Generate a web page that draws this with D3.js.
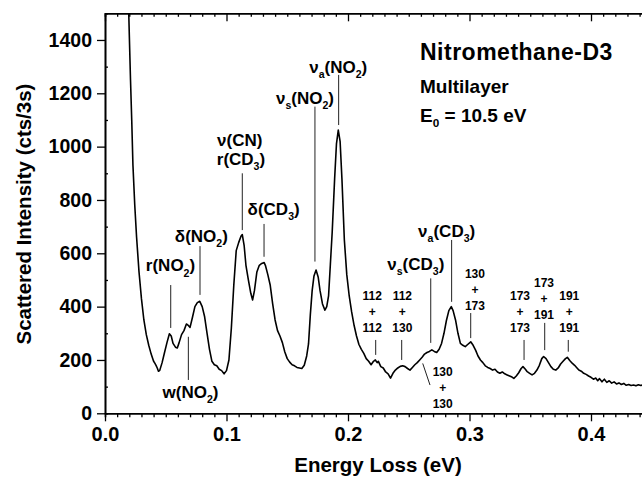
<!DOCTYPE html>
<html>
<head>
<meta charset="utf-8">
<script src="https://cdn.jsdelivr.net/npm/d3@7"></script>
<style>
  body { margin: 0; background: #fff; }
  svg { display: block; font-family: "Liberation Sans", Arial, Helvetica, sans-serif; font-weight: bold; }
</style>
</head>
<body>
<svg id="chart" width="642" height="477"></svg>
<script>
// spektrum: energitab (eV) og intensitet (cts/3s)
var energy = [0.0190, 0.0200, 0.0210, 0.0220, 0.0230, 0.0245, 0.0260, 0.0280, 0.0300, 0.0320,
  0.0340, 0.0360, 0.0380, 0.0400, 0.0410, 0.0420, 0.0430, 0.0440, 0.0450, 0.0470,
  0.0490, 0.0510, 0.0530, 0.0545, 0.0560, 0.0580, 0.0595, 0.0610, 0.0630, 0.0650,
  0.0670, 0.0685, 0.0700, 0.0720, 0.0740, 0.0760, 0.0780, 0.0800, 0.0820, 0.0840,
  0.0860, 0.0880, 0.0900, 0.0920, 0.0940, 0.0960, 0.0980, 0.1000, 0.1020, 0.1040,
  0.1060, 0.1080, 0.1100, 0.1120, 0.1130, 0.1145, 0.1160, 0.1180, 0.1200, 0.1215,
  0.1230, 0.1250, 0.1270, 0.1290, 0.1310, 0.1320, 0.1340, 0.1360, 0.1380, 0.1400,
  0.1420, 0.1440, 0.1460, 0.1480, 0.1500, 0.1520, 0.1540, 0.1560, 0.1580, 0.1600,
  0.1620, 0.1640, 0.1660, 0.1675, 0.1690, 0.1705, 0.1720, 0.1737, 0.1755, 0.1770,
  0.1790, 0.1810, 0.1825, 0.1840, 0.1855, 0.1870, 0.1890, 0.1905, 0.1920, 0.1935,
  0.1950, 0.1970, 0.1990, 0.2010, 0.2030, 0.2050, 0.2070, 0.2090, 0.2110, 0.2130,
  0.2150, 0.2170, 0.2190, 0.2210, 0.2225, 0.2240, 0.2250, 0.2270, 0.2290, 0.2310,
  0.2330, 0.2350, 0.2370, 0.2390, 0.2410, 0.2430, 0.2450, 0.2470, 0.2490, 0.2510,
  0.2530, 0.2550, 0.2570, 0.2590, 0.2610, 0.2630, 0.2650, 0.2670, 0.2690, 0.2710,
  0.2730, 0.2750, 0.2770, 0.2790, 0.2810, 0.2830, 0.2850, 0.2865, 0.2885, 0.2905,
  0.2925, 0.2945, 0.2965, 0.2985, 0.3010, 0.3030, 0.3050, 0.3070, 0.3090, 0.3110,
  0.3130, 0.3150, 0.3170, 0.3190, 0.3210, 0.3230, 0.3250, 0.3270, 0.3290, 0.3310,
  0.3330, 0.3350, 0.3365, 0.3385, 0.3405, 0.3425, 0.3440, 0.3460, 0.3475, 0.3495,
  0.3515, 0.3535, 0.3555, 0.3575, 0.3595, 0.3610, 0.3630, 0.3650, 0.3670, 0.3690,
  0.3710, 0.3730, 0.3750, 0.3770, 0.3790, 0.3805, 0.3825, 0.3845, 0.3865, 0.3885,
  0.3900, 0.3920, 0.3940, 0.3960, 0.3980, 0.4000, 0.4020, 0.4040, 0.4055, 0.4070,
  0.4090, 0.4110, 0.4130, 0.4150, 0.4170, 0.4190, 0.4210, 0.4230, 0.4250, 0.4270,
  0.4290, 0.4310, 0.4330, 0.4350, 0.4370, 0.4390, 0.4410, 0.4430, 0.4450];
var counts = [1600, 1420, 1250, 1100, 930, 780, 660, 530, 430, 350,
  295, 255, 222, 195, 188, 180, 170, 158, 160, 190,
  228, 265, 298, 290, 262, 248, 245, 265, 295, 310,
  335, 330, 322, 360, 400, 415, 420, 400, 362, 300,
  240, 195, 182, 178, 165, 160, 148, 160, 200, 320,
  480, 610, 640, 665, 670, 630, 555, 500, 450, 425,
  460, 530, 555, 562, 565, 555, 520, 480, 410, 350,
  310, 290, 265, 230, 205, 192, 182, 178, 172, 170,
  168, 180, 215, 260, 370, 460, 515, 537, 510, 460,
  410, 387, 400, 440, 560, 680, 880, 1010, 1062, 1020,
  880, 650, 520, 440, 380, 330, 290, 258, 240, 225,
  205, 195, 182, 195, 200, 190, 195, 175, 170, 155,
  148, 132, 150, 162, 170, 176, 178, 175, 168, 162,
  172, 182, 190, 200, 210, 222, 228, 232, 238, 232,
  228, 240, 262, 300, 348, 385, 400, 385, 350, 300,
  262, 255, 250, 258, 268, 255, 237, 215, 200, 190,
  178, 172, 168, 162, 165, 155, 150, 155, 148, 144,
  140, 136, 131, 140, 152, 168, 175, 165, 156, 150,
  144, 150, 162, 180, 205, 213, 205, 190, 175, 165,
  162, 170, 185, 195, 205, 210, 198, 188, 180, 170,
  162, 158, 150, 146, 140, 135, 128, 132, 122, 130,
  118, 128, 116, 122, 113, 118, 110, 114, 108, 112,
  105, 108, 104, 106, 103, 107, 104, 108, 106];

// akser
var xMajorTicks = [0.0, 0.1, 0.2, 0.3, 0.4];
var xTickLabels = ["0.0", "0.1", "0.2", "0.3", "0.4"];
var yMajorTicks = [0, 200, 400, 600, 800, 1000, 1200, 1400];
var yTickLabels = ["0", "200", "400", "600", "800", "1000", "1200", "1400"];

// båndtildelinger (energi og intensitet i dataenheder)
var bandNames = ["r(NO_2)", "w(NO_2)", "δ(NO_2)", "ν(CN)", "r(CD_3)", "δ(CD_3)", "ν_s(NO_2)", "ν_a(NO_2)", "ν_s(CD_3)", "ν_a(CD_3)"];
var bandTextE = [0.0539, 0.0704, 0.0793, 0.1109, 0.1119, 0.1388, 0.1646, 0.1920, 0.2558, 0.2812];
var bandTextI = [532, 57, 642, 1002, 931, 744, 1160, 1276, 537, 661];
var bandLineE = [0.0541, 0.0686, 0.0782, null, 0.1130, 0.1309, 0.1728, 0.1923, 0.2681, 0.2853];
var bandLineFrom = [481, 287, 627, null, 900, 710, 1150, 1269, 506, 650];
var bandLineTo = [320, 125, 444, null, 687, 587, 569, 1081, 264, 418];

// kombinationsbånd
var comboTop = ["112", "112", "130", "173", "173", "191", "130"];
var comboBottom = ["112", "130", "173", "173", "191", "191", "130"];
var comboTextE = [0.2200, 0.2447, 0.3045, 0.3416, 0.3613, 0.3821, 0.2779];
var comboTextI = [425, 425, 509, 425, 472, 425, 140];
var comboLineE1 = [0.2228, 0.2442, 0.3010, 0.3449, 0.3619, 0.3813, 0.2615];
var comboLineE2 = [0.2228, 0.2442, 0.3010, 0.3449, 0.3619, 0.3813, 0.2675];
var comboLineFrom = [275, 275, 376, 275, 339, 275, 187];
var comboLineTo = [219, 200, 282, 200, 237, 231, 106];

var svg = d3.select("#chart");
var plotLeft = 105, plotTop = 13.3, plotBottom = 413.3;

var x = d3.scaleLinear().domain([0, 0.45]).range([plotLeft, plotLeft + 0.45 * 1215]);
var y = d3.scaleLinear().domain([0, 1500]).range([plotBottom, plotTop]);

var xMinor = d3.range(0, 45).filter(function(i) { return i % 10 !== 0; }).map(function(i) { return i / 100; });
var yMinor = d3.range(100, 1500, 200);

// tekst med sænket skrift: "_x" bliver til subscript
function richText(sel, str, size) {
  var parts = str.split(/_(.)/);
  var wasSub = false;
  parts.forEach(function(p, i) {
    var sub = i % 2 === 1;
    if (p === "") return;
    var dy = 0;
    if (sub) dy = size * 0.3;
    else if (wasSub) dy = -size * 0.3;
    sel.append("tspan")
      .attr("font-size", sub ? size * 0.62 : size)
      .attr("dy", dy)
      .text(p);
    wasSub = sub;
  });
}

// spektrum
svg.append("clipPath").attr("id", "plotClip")
  .append("rect").attr("x", plotLeft).attr("y", plotTop).attr("width", 642 - plotLeft).attr("height", plotBottom - plotTop);

var line = d3.line()
  .x(function(d, i) { return x(energy[i]); })
  .y(function(d) { return y(d); });

svg.append("path")
  .datum(counts)
  .attr("clip-path", "url(#plotClip)")
  .attr("fill", "none")
  .attr("stroke", "#000")
  .attr("stroke-width", 1.6)
  .attr("stroke-linejoin", "round")
  .attr("d", line);

// x-akse nederst
var gx = svg.append("g").attr("transform", "translate(0," + plotBottom + ")");
gx.append("g").call(d3.axisBottom(x).tickValues(xMinor).tickSize(4).tickFormat(""));
gx.append("g").call(d3.axisBottom(x).tickValues(xMajorTicks).tickSize(8).tickSizeOuter(0)
  .tickFormat(function(d, i) { return xTickLabels[i]; }));
gx.selectAll("text").attr("y", 14).attr("dy", "0.71em").attr("font-size", 20).attr("fill", "#000");

// x-akse øverst, ticks indad
var gt = svg.append("g").attr("transform", "translate(0," + plotTop + ")");
gt.append("g").call(d3.axisTop(x).tickValues(xMinor).tickSize(-3.5).tickFormat(""));
gt.append("g").call(d3.axisTop(x).tickValues(xMajorTicks).tickSize(-8).tickSizeOuter(0).tickFormat(""));

// y-akse
var gy = svg.append("g").attr("transform", "translate(" + plotLeft + ",0)");
gy.append("g").call(d3.axisLeft(y).tickValues(yMinor).tickSize(-3).tickFormat(""));
gy.append("g").call(d3.axisLeft(y).tickValues(yMajorTicks).tickSize(8).tickSizeOuter(0)
  .tickFormat(function(d, i) { return yTickLabels[i]; }));
gy.selectAll("text").attr("x", -13).attr("font-size", 19.5).attr("fill", "#000");

svg.selectAll(".domain").attr("stroke-width", 1.6).attr("stroke", "#000");
svg.selectAll(".tick line").attr("stroke-width", 1.3).attr("stroke", "#000");

// aksetitler
svg.append("text")
  .attr("x", 378).attr("y", 472)
  .attr("text-anchor", "middle")
  .attr("font-size", 20.5)
  .text("Energy Loss (eV)");

svg.append("text")
  .attr("transform", "translate(31,214) rotate(-90)")
  .attr("text-anchor", "middle")
  .attr("font-size", 20.5)
  .text("Scattered Intensity (cts/3s)");

// titelblok
svg.append("text").attr("x", 420).attr("y", 60).attr("font-size", 23).attr("letter-spacing", 0.5)
  .text("Nitromethane-D3");
svg.append("text").attr("x", 420).attr("y", 93).attr("font-size", 19).text("Multilayer");
richText(svg.append("text").attr("x", 420).attr("y", 121.5), "E_0 = 10.5 eV", 19);

// bånd-etiketter og hjælpelinjer
bandNames.forEach(function(name, i) {
  richText(svg.append("text")
    .attr("x", x(bandTextE[i]))
    .attr("y", y(bandTextI[i]))
    .attr("text-anchor", "middle"), name, 17);
  if (bandLineE[i] !== null) {
    svg.append("line")
      .attr("x1", x(bandLineE[i])).attr("x2", x(bandLineE[i]))
      .attr("y1", y(bandLineFrom[i])).attr("y2", y(bandLineTo[i]))
      .attr("stroke", "#222").attr("stroke-width", 1);
  }
});

comboTop.forEach(function(t, i) {
  var g = svg.append("text")
    .attr("text-anchor", "middle")
    .attr("font-size", 12);
  [t, "+", comboBottom[i]].forEach(function(s, j) {
    g.append("tspan")
      .attr("x", x(comboTextE[i]))
      .attr("y", y(comboTextI[i]) + j * 16)
      .text(s);
  });
  svg.append("line")
    .attr("x1", x(comboLineE1[i])).attr("x2", x(comboLineE2[i]))
    .attr("y1", y(comboLineFrom[i])).attr("y2", y(comboLineTo[i]))
    .attr("stroke", "#222").attr("stroke-width", 1);
});
</script>
</body>
</html>
